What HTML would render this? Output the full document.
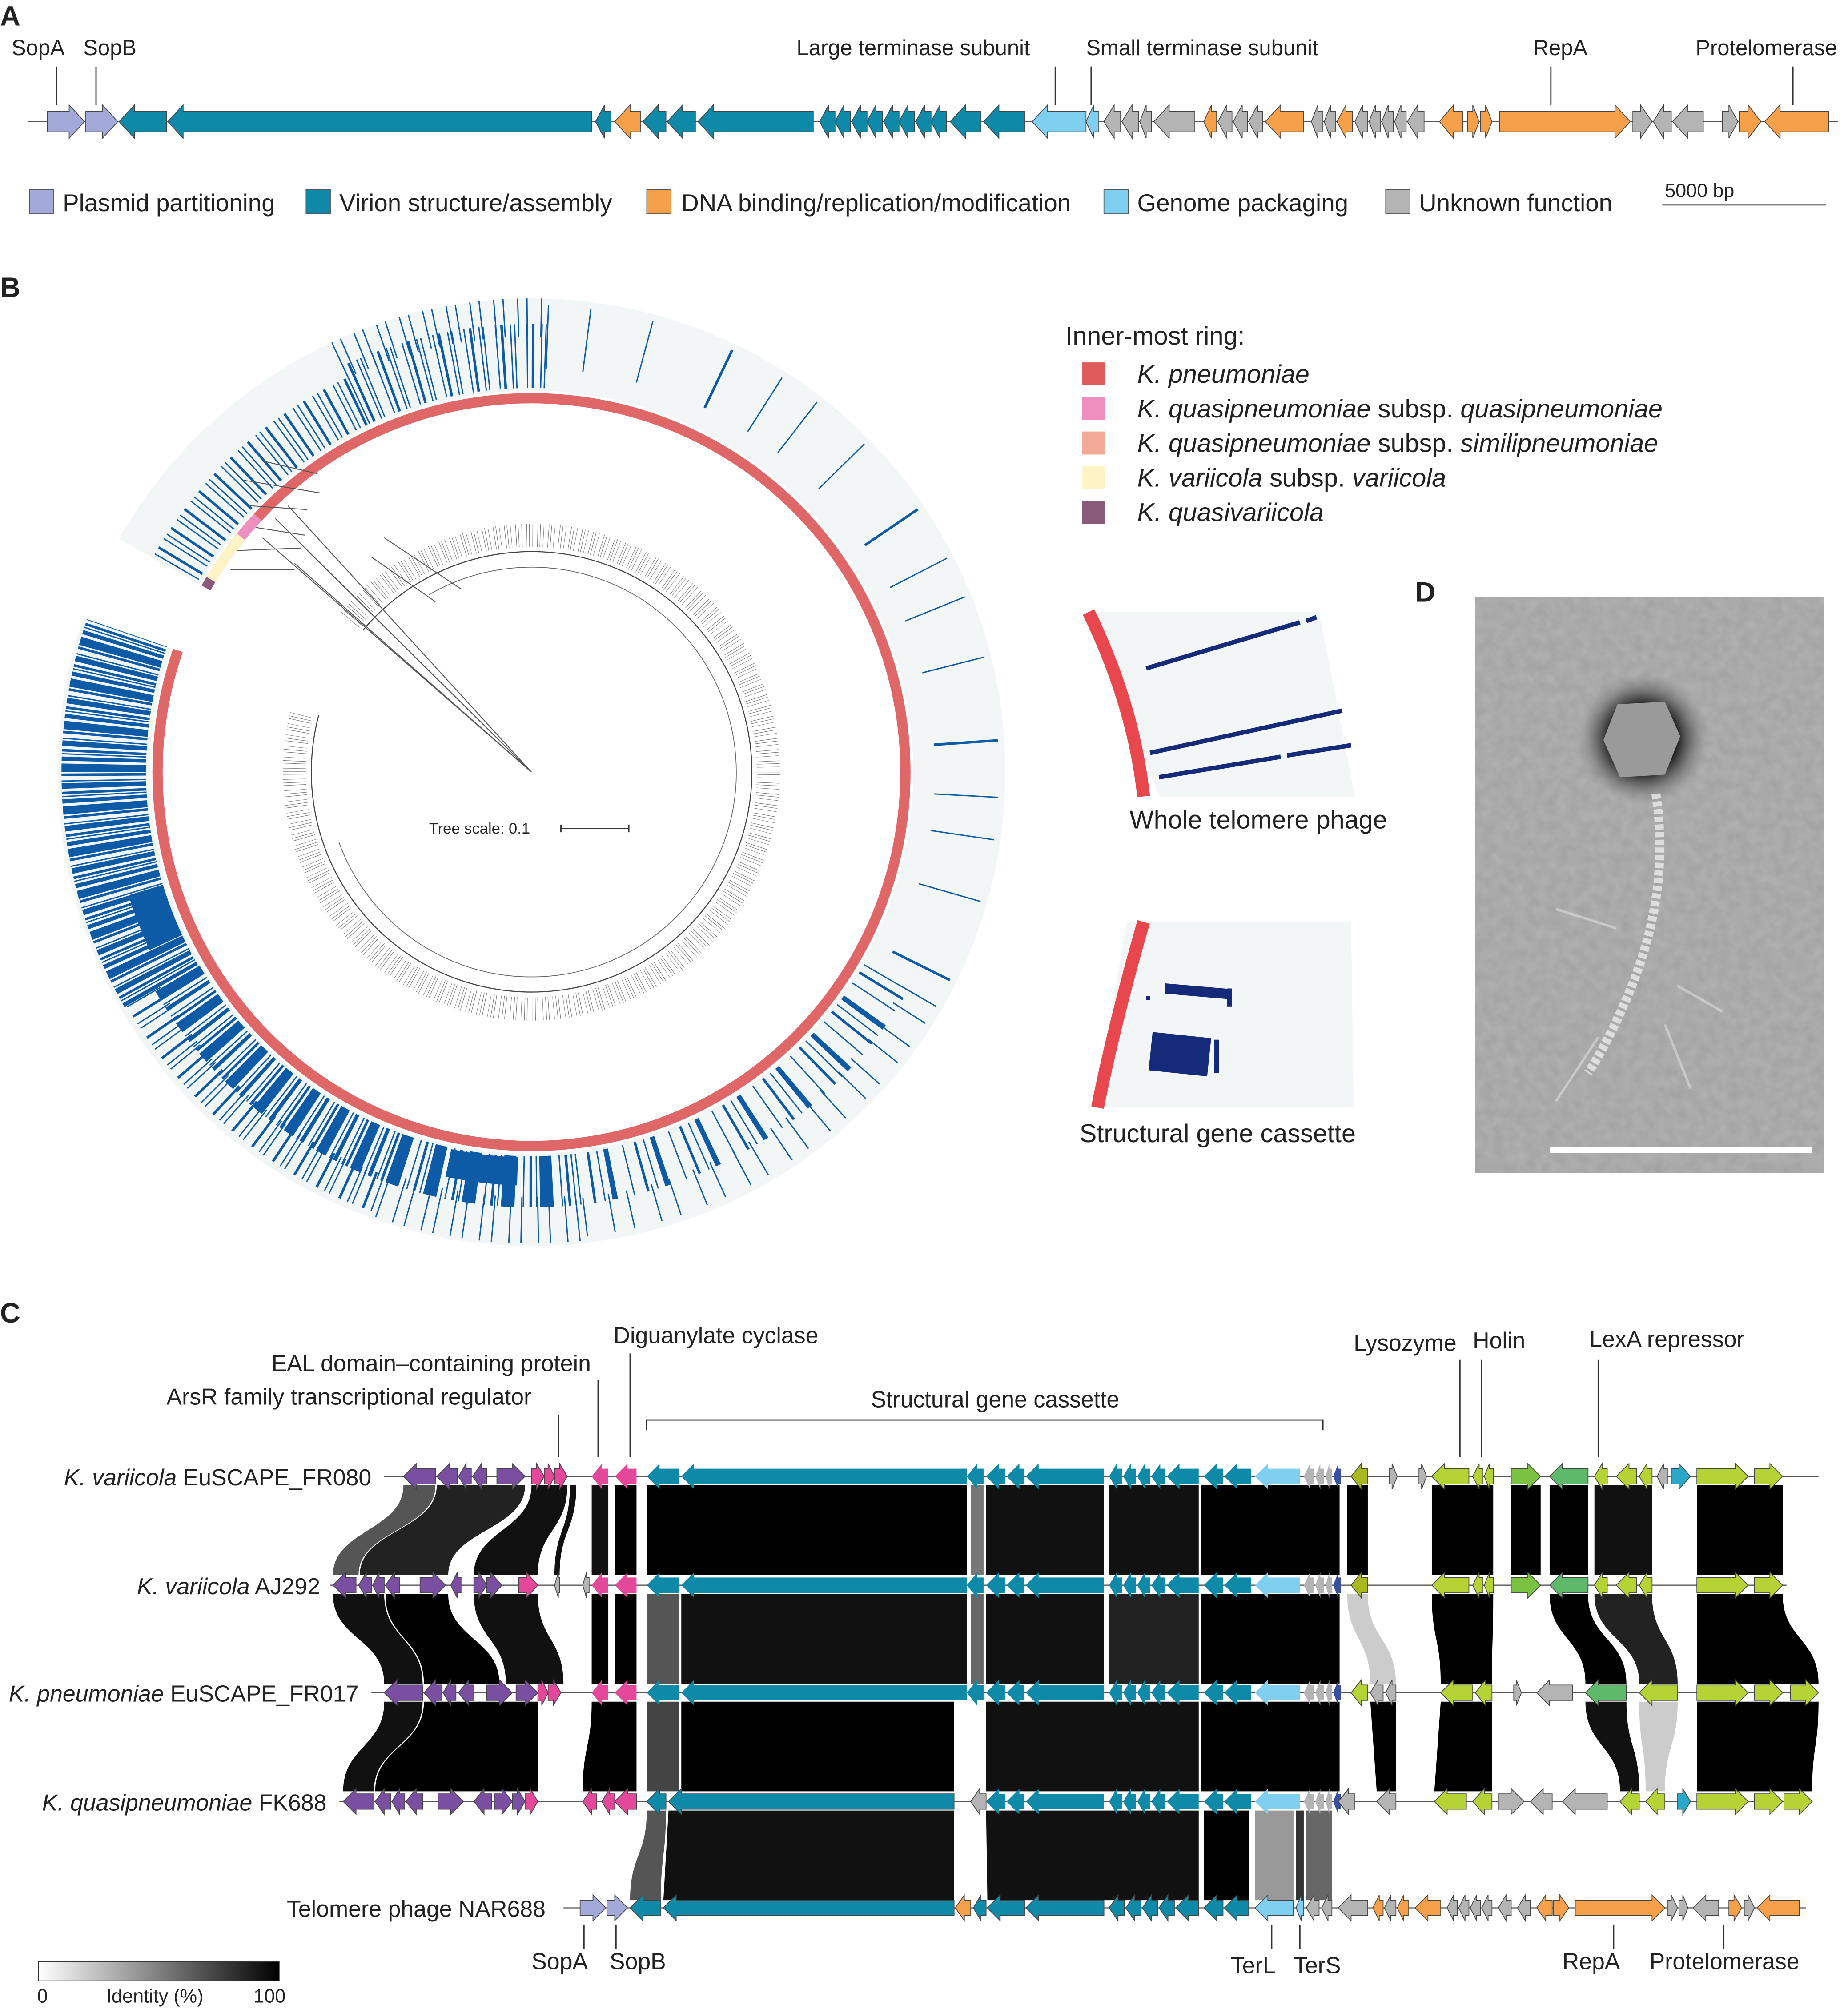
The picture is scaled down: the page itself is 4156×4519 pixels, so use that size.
<!DOCTYPE html>
<html><head><meta charset="utf-8"><style>
html,body{margin:0;padding:0;background:#fff}
svg{display:block}
text{font-family:"Liberation Sans",sans-serif;fill:#222}
.gn path{stroke:#444;stroke-width:.6}
.t{fill:#0e8aa8}.o{fill:#f6a04a}.lv{fill:#a3a9d8}.lb{fill:#7fcff0}.gy{fill:#b4b4b4}.p{fill:#7a4ea0}.k{fill:#e4489b}.lm{fill:#b5d334}.gr{fill:#7cc242}.g2{fill:#5fb96a}.db{fill:#3a4fa0}.c{fill:#29a8c8}.y{fill:#a8b81e}
.bl{fill:none;stroke:#0d5aa6}
</style></head><body>
<svg xmlns="http://www.w3.org/2000/svg" width="4156" height="4519" viewBox="0 0 1443 1569" preserveAspectRatio="none">
<defs>
<filter id="noise" x="0" y="0" width="100%" height="100%">
<feTurbulence type="fractalNoise" baseFrequency="0.12" numOctaves="3" seed="3"/>
<feColorMatrix type="matrix" values="0 0 0 0 0.5  0 0 0 0 0.5  0 0 0 0 0.5  0 0 0 0.7 0"/>
</filter>
<radialGradient id="halo"><stop offset="0.5" stop-color="#1a1a1a"/><stop offset="1" stop-color="#888" stop-opacity="0"/></radialGradient>
<linearGradient id="idg"><stop offset="0" stop-color="#fff"/><stop offset="1" stop-color="#000"/></linearGradient>
</defs>
<rect width="1443" height="1569" fill="#fff"/>

<!-- ===== Panel A genes ===== -->
<line x1="22" y1="95" x2="1435" y2="95" stroke="#555" stroke-width="1"/>
<g class="gn" transform="translate(0,95)">
<path class="lv" d="M37,-8H54V-13L66,0L54,13V8H37Z"/>
<path class="lv" d="M67,-8H80V-13L92,0L80,13V8H67Z"/>
<path class="t" d="M130,-8H105V-13L93,0L105,13V8H130Z"/>
<path class="t" d="M462,-8H143V-13L131,0L143,13V8H462Z"/>
<path class="t" d="M477,-8H472V-13L465,0L472,13V8H477Z"/>
<path class="o" d="M500,-8H492V-13L480,0L492,13V8H500Z"/>
<path class="t" d="M520,-8H514V-13L502,0L514,13V8H520Z"/>
<path class="t" d="M543,-8H533V-13L521,0L533,13V8H543Z"/>
<path class="t" d="M635,-8H557V-13L545,0L557,13V8H635Z"/>
<path class="t" d="M652,-8H647V-13L640,0L647,13V8H652Z"/>
<path class="t" d="M664,-8H659V-13L652,0L659,13V8H664Z"/>
<path class="t" d="M677,-8H672V-13L665,0L672,13V8H677Z"/>
<path class="t" d="M689,-8H684V-13L677,0L684,13V8H689Z"/>
<path class="t" d="M702,-8H697V-13L690,0L697,13V8H702Z"/>
<path class="t" d="M714,-8H709V-13L702,0L709,13V8H714Z"/>
<path class="t" d="M727,-8H722V-13L715,0L722,13V8H727Z"/>
<path class="t" d="M739,-8H734V-13L727,0L734,13V8H739Z"/>
<path class="t" d="M766,-8H754V-13L742,0L754,13V8H766Z"/>
<path class="t" d="M800,-8H780V-13L768,0L780,13V8H800Z"/>
<path class="lb" d="M848,-8H818V-13L806,0L818,13V8H848Z"/>
<path class="lb" d="M858,-8H854V-13L848,0L854,13V8H858Z"/>
<path class="gy" d="M875,-8H870V-13L862,0L870,13V8H875Z"/>
<path class="gy" d="M889,-8H884V-13L876,0L884,13V8H889Z"/>
<path class="gy" d="M899,-8H895V-13L890,0L895,13V8H899Z"/>
<path class="gy" d="M933,-8H913V-13L901,0L913,13V8H933Z"/>
<path class="o" d="M950,-8H946V-13L940,0L946,13V8H950Z"/>
<path class="gy" d="M962,-8H958V-13L951,0L958,13V8H962Z"/>
<path class="gy" d="M974,-8H970V-13L963,0L970,13V8H974Z"/>
<path class="gy" d="M986,-8H982V-13L975,0L982,13V8H986Z"/>
<path class="o" d="M1018,-8H1000V-13L988,0L1000,13V8H1018Z"/>
<path class="gy" d="M1033,-8H1029V-13L1024,0L1029,13V8H1033Z"/>
<path class="gy" d="M1043,-8H1039V-13L1034,0L1039,13V8H1043Z"/>
<path class="o" d="M1056,-8H1051V-13L1044,0L1051,13V8H1056Z"/>
<path class="gy" d="M1068,-8H1064V-13L1058,0L1064,13V8H1068Z"/>
<path class="gy" d="M1078,-8H1074V-13L1069,0L1074,13V8H1078Z"/>
<path class="gy" d="M1088,-8H1084V-13L1079,0L1084,13V8H1088Z"/>
<path class="gy" d="M1098,-8H1094V-13L1089,0L1094,13V8H1098Z"/>
<path class="gy" d="M1112,-8H1107V-13L1099,0L1107,13V8H1112Z"/>
<path class="o" d="M1142,-8H1135V-13L1124,0L1135,13V8H1142Z"/>
<path class="o" d="M1146,-8H1150V-13L1155,0L1150,13V8H1146Z"/>
<path class="o" d="M1156,-8H1160V-13L1165,0L1160,13V8H1156Z"/>
<path class="o" d="M1171,-8H1261V-13L1273,0L1261,13V8H1171Z"/>
<path class="gy" d="M1275,-8H1281V-13L1290,0L1281,13V8H1275Z"/>
<path class="gy" d="M1305,-8H1299V-13L1291,0L1299,13V8H1305Z"/>
<path class="gy" d="M1330,-8H1318V-13L1306,0L1318,13V8H1330Z"/>
<path class="gy" d="M1345,-8H1350V-13L1357,0L1350,13V8H1345Z"/>
<path class="o" d="M1358,-8H1365V-13L1375,0L1365,13V8H1358Z"/>
<path class="o" d="M1428,-8H1390V-13L1378,0L1390,13V8H1428Z"/>
</g>

<!-- Panel labels -->
<text x="0" y="20" font-size="22" font-weight="bold">A</text>
<text x="0" y="232" font-size="22" font-weight="bold">B</text>
<text x="0" y="1033" font-size="22" font-weight="bold">C</text>
<text x="1105" y="470" font-size="22" font-weight="bold">D</text>
<g font-size="17">
<text x="9" y="43">SopA</text><text x="65" y="43">SopB</text>
<text x="622" y="43">Large terminase subunit</text>
<text x="848" y="43">Small terminase subunit</text>
<text x="1197" y="43">RepA</text>
<text x="1324" y="43">Protelomerase</text>
</g>
<g stroke="#333" stroke-width="1">
<line x1="44" y1="52" x2="44" y2="82"/><line x1="75" y1="52" x2="75" y2="82"/>
<line x1="824" y1="52" x2="824" y2="82"/><line x1="852" y1="52" x2="852" y2="82"/>
<line x1="1211" y1="52" x2="1211" y2="82"/><line x1="1400" y1="52" x2="1400" y2="82"/>
<line x1="1298" y1="160" x2="1426" y2="160"/>
</g>
<text x="1300" y="154" font-size="15">5000 bp</text>
<g font-size="19">
<rect x="23" y="148" width="19" height="19" fill="#a3a9d8" stroke="#555" stroke-width=".6"/><text x="49" y="165">Plasmid partitioning</text>
<rect x="239" y="148" width="19" height="19" fill="#0e8aa8" stroke="#555" stroke-width=".6"/><text x="265" y="165">Virion structure/assembly</text>
<rect x="505" y="148" width="19" height="19" fill="#f6a04a" stroke="#555" stroke-width=".6"/><text x="532" y="165">DNA binding/replication/modification</text>
<rect x="862" y="148" width="19" height="19" fill="#7fcff0" stroke="#555" stroke-width=".6"/><text x="888" y="165">Genome packaging</text>
<rect x="1082" y="148" width="19" height="19" fill="#b4b4b4" stroke="#555" stroke-width=".6"/><text x="1108" y="165">Unknown function</text>
</g>

<!-- ===== Panel B circle ===== -->
<circle cx="415" cy="603" r="334" fill="none" stroke="#f3f6f6" stroke-width="72"/>
<circle cx="415" cy="603" r="292" fill="none" stroke="#e06767" stroke-width="8"/>
<path class="bl" d="M125.8,770 A334,334 0 0 1 99.2,494.2" stroke-width="66" stroke-dasharray="3 1.5 1 1 2 2 4 1 1 3 2 1 6 2"/>
<path class="bl" d="M129.5,736.1 A315,315 0 0 1 113.8,695.1" stroke-width="28"/>
<path class="bl" d="M305.6,903.7 A320,320 0 0 1 137.9,763" stroke-width="40" stroke-dasharray="2 2 1 4 3 2 1 3 8 2"/>
<path class="bl" d="M295.3,931.9 A350,350 0 0 1 111.9,778" stroke-width="30" stroke-dasharray="1 5 2 7 1 3"/>
<path class="bl" d="M448.4,921.2 A320,320 0 0 1 305.6,903.7" stroke-width="40" stroke-dasharray="1 3 2 4 1 6 10 2"/>
<path class="bl" d="M451.6,951.1 A350,350 0 0 1 295.3,931.9" stroke-width="36" stroke-dasharray="1 8 1 12"/>
<path class="bl" d="M404.1,914.8 A312,312 0 0 1 350.1,908.2" stroke-width="22"/>
<path class="bl" d="M692.1,763 A320,320 0 0 1 448.4,921.2" stroke-width="40" stroke-dasharray="1 6 2 9 1 12 4 5"/>
<path class="bl" d="M718.1,778 A350,350 0 0 1 451.6,951.1" stroke-width="30" stroke-dasharray="1 14 1 20"/>
<path class="bl" d="M137.9,443 A320,320 0 0 1 279.8,313" stroke-width="40" stroke-dasharray="1 4 2 6 1 3"/>
<path class="bl" d="M277.7,308.5 A325,325 0 0 1 426.3,278.2" stroke-width="50" stroke-dasharray="1 3 2 5 1 2 1 8"/>
<path class="bl" d="M265,281.3 A355,355 0 0 1 427.4,248.2" stroke-width="30" stroke-dasharray="1 6 1 10"/>
<path class="bl" d="M426.9,263.2 A340,340 0 0 1 709.4,773" stroke-width="50" stroke-dasharray="1 30 1 45 1 60 2 40"/>
<polygon points="415,603 36.8,472.8 66.8,406" fill="#fff"/>
<path d="M160.8,459.2 A292,292 0 0 1 164.7,452.6" fill="none" stroke="#8a5a7a" stroke-width="8"/>
<path d="M164.7,452.6 A292,292 0 0 1 188.1,419.2" fill="none" stroke="#fdf3c4" stroke-width="8"/>
<path d="M188.1,419.2 A292,292 0 0 1 201.4,403.9" fill="none" stroke="#ef8fc0" stroke-width="8"/>
<!-- tree -->
<path d="M283.2,492.4 A172,172 0 1 1 248.9,558.5" fill="none" stroke="#444" stroke-width="0.8"/>
<path d="M273.3,484.1 A185,185 0 1 1 236.3,555.1" fill="none" stroke="#222" stroke-width="18" stroke-dasharray="0.4 2.2 0.3 3.5 0.4 1.6" opacity="0.6"/>
<path d="M335,464.4 A160,160 0 1 1 264.6,657.7" fill="none" stroke="#666" stroke-width="0.6"/>
<g stroke="#555" stroke-width="0.7">
<line x1="415" y1="603" x2="205" y2="420"/><line x1="415" y1="603" x2="215" y2="405"/>
<line x1="415" y1="603" x2="225" y2="395"/><line x1="415" y1="603" x2="240" y2="430"/>
<line x1="415" y1="603" x2="230" y2="440"/>
<line x1="190" y1="375" x2="250" y2="385"/><line x1="195" y1="395" x2="240" y2="398"/>
<line x1="200" y1="412" x2="238" y2="418"/><line x1="185" y1="430" x2="235" y2="428"/>
<line x1="180" y1="445" x2="230" y2="445"/><line x1="205" y1="360" x2="248" y2="370"/>
<line x1="300" y1="420" x2="360" y2="460"/><line x1="290" y1="435" x2="340" y2="470"/>
</g>
<text x="335" y="651" font-size="12">Tree scale: 0.1</text>
<path d="M438,644 L438,650 M438,647 L491,647 M491,644 L491,650" stroke="#333" stroke-width="1"/>

<!-- B legend -->
<text x="832" y="269" font-size="20">Inner-most ring:</text>
<g font-size="20" font-style="italic">
<rect x="845" y="283" width="18" height="18" fill="#e05b5b"/><text x="888" y="299">K. pneumoniae</text>
<rect x="845" y="310" width="18" height="18" fill="#ef8fc0"/><text x="888" y="326">K. quasipneumoniae<tspan font-style="normal"> subsp. </tspan>quasipneumoniae</text>
<rect x="845" y="337" width="18" height="18" fill="#f2aa98"/><text x="888" y="353">K. quasipneumoniae<tspan font-style="normal"> subsp. </tspan>similipneumoniae</text>
<rect x="845" y="364" width="18" height="18" fill="#fdf3c4"/><text x="888" y="380">K. variicola<tspan font-style="normal"> subsp. </tspan>variicola</text>
<rect x="845" y="391" width="18" height="18" fill="#8a5a7a"/><text x="888" y="407">K. quasivariicola</text>
</g>
<path d="M850,478 L1030,478 L1058,622 L905,622 Z" fill="#f3f6f6"/>
<path d="M850,478 Q885,550 893,622" fill="none" stroke="#e8474e" stroke-width="10"/>
<g stroke="#162a7a" stroke-width="3.5">
<line x1="895" y1="522" x2="1015" y2="486"/><line x1="1020" y1="485" x2="1028" y2="482"/>
<line x1="898" y1="588" x2="1048" y2="555"/>
<line x1="905" y1="607" x2="1000" y2="591"/><line x1="1005" y1="590" x2="1055" y2="582"/>
</g>
<text x="882" y="647" font-size="20">Whole telomere phage</text>
<path d="M880,720 L1055,720 L1057,865 L855,865 Z" fill="#f3f6f6"/>
<path d="M893,720 Q870,800 857,865" fill="none" stroke="#e8474e" stroke-width="10"/>
<g fill="#162a7a">
<rect x="910" y="768" width="50" height="8" transform="rotate(5 910 768)"/>
<rect x="900" y="806" width="46" height="30" transform="rotate(6 900 806)"/>
<rect x="948" y="812" width="4" height="26"/><rect x="958" y="772" width="4" height="14"/>
<rect x="895" y="778" width="3" height="3"/>
</g>
<text x="843" y="892" font-size="20">Structural gene cassette</text>
<!-- D -->
<rect x="1152" y="466" width="272" height="450" fill="#a0a0a0"/>
<rect x="1152" y="466" width="272" height="450" filter="url(#noise)"/>
<circle cx="1283" cy="577" r="52" fill="url(#halo)"/>
<polygon points="1263,550 1300,548 1312,575 1300,605 1265,607 1252,578" fill="#9a9a9a"/>
<path d="M1293,620 Q1305,700 1270,780 Q1255,815 1240,838" fill="none" stroke="#e6e6e6" stroke-width="7" stroke-dasharray="4 2" opacity=".85"/>
<g stroke="#ddd" stroke-width="2" opacity=".6"><line x1="1215" y1="710" x2="1262" y2="725"/><line x1="1248" y1="810" x2="1215" y2="860"/><line x1="1300" y1="800" x2="1320" y2="850"/><line x1="1310" y1="770" x2="1345" y2="790"/></g>
<line x1="1210" y1="898" x2="1415" y2="898" stroke="#fff" stroke-width="5"/>

<!-- ===== Panel C ===== -->
<g transform="translate(0,1160)">
<path fill="#555" d="M315,0H340C340,35 280,35 280,70H260C260,35 315,35 315,0Z"/>
<path fill="#222" d="M341,0H410C410,35 350,35 350,70H281C281,35 341,35 341,0Z"/>
<path fill="#111" d="M415,0H443C443,35 420,35 420,70H370C370,35 415,35 415,0Z"/>
<path fill="#111" d="M445,0H450C450,35 437,35 437,70H433C433,35 445,35 445,0Z"/>
<path fill="#111" d="M462,0H475V70H462Z"/><path fill="#000" d="M480,0H497V70H480Z"/>
<path fill="#000" d="M505,0H755V70H505Z"/><path fill="#777" d="M758,0H768V70H758Z"/>
<path fill="#111" d="M770,0H862V70H770Z"/><path fill="#111" d="M866,0H936V70H866Z"/>
<path fill="#000" d="M938,0H1046V70H938Z"/><path fill="#000" d="M1052,0H1068V70H1052Z"/>
<path fill="#000" d="M1118,0H1166V70H1118Z"/><path fill="#000" d="M1180,0H1203V70H1180Z"/>
<path fill="#000" d="M1210,0H1240V70H1210Z"/><path fill="#111" d="M1245,0H1290V70H1245Z"/>
<path fill="#000" d="M1325,0H1392V70H1325Z"/>
</g>
<g transform="translate(0,1245)">
<path fill="#111" d="M260,0H300C300,35 330,35 330,70H300C300,35 260,35 260,0Z"/>
<path fill="#000" d="M301,0H350C350,35 390,35 390,70H331C331,35 301,35 301,0Z"/>
<path fill="#111" d="M370,0H420C420,35 440,35 440,70H395C395,35 370,35 370,0Z"/>
<path fill="#000" d="M462,0H475V70H462Z"/><path fill="#000" d="M480,0H497V70H480Z"/>
<path fill="#555" d="M505,0H530V70H505Z"/><path fill="#111" d="M532,0H755V70H532Z"/>
<path fill="#666" d="M758,0H768V70H758Z"/><path fill="#111" d="M770,0H862V70H770Z"/>
<path fill="#222" d="M866,0H936V70H866Z"/><path fill="#000" d="M938,0H1046V70H938Z"/>
<path fill="#ccc" d="M1052,0H1068C1068,35 1090,35 1090,70H1070C1070,35 1052,35 1052,0Z"/>
<path fill="#000" d="M1118,0H1166C1166,35 1165,35 1165,70H1125C1125,35 1118,35 1118,0Z"/>
<path fill="#000" d="M1210,0H1240C1240,35 1270,35 1270,70H1238C1238,35 1210,35 1210,0Z"/>
<path fill="#222" d="M1245,0H1290C1290,35 1310,35 1310,70H1280C1280,35 1245,35 1245,0Z"/>
<path fill="#000" d="M1325,0H1392C1392,35 1420,35 1420,70H1325Z"/>
</g>
<g transform="translate(0,1329)">
<path fill="#111" d="M300,0H330C330,35 292,35 292,70H268C268,35 300,35 300,0Z"/>
<path fill="#000" d="M331,0H420V70H293C293,35 331,35 331,0Z"/>
<path fill="#000" d="M462,0H497V70H455C455,35 462,35 462,0Z"/>
<path fill="#444" d="M505,0H530V70H505Z"/><path fill="#000" d="M532,0H745V70H532Z"/>
<path fill="#111" d="M770,0H936V70H770Z"/><path fill="#000" d="M938,0H1046V70H938Z"/>
<path fill="#000" d="M1070,0H1090V70H1075Z"/>
<path fill="#000" d="M1125,0H1165V70H1120Z"/>
<path fill="#111" d="M1238,0H1270C1270,35 1280,35 1280,70H1265C1265,35 1238,35 1238,0Z"/>
<path fill="#ccc" d="M1280,0H1310C1310,35 1300,35 1300,70H1285C1285,35 1280,35 1280,0Z"/>
<path fill="#000" d="M1325,0H1420C1420,35 1415,35 1415,70H1325Z"/>
</g>
<g transform="translate(0,1414)">
<path fill="#555" d="M505,0H520C520,35 516,35 516,70H492C492,35 505,35 505,0Z"/>
<path fill="#111" d="M522,0H745V70H518Z"/>
<path fill="#111" d="M770,0H936V70H771Z"/><path fill="#000" d="M940,0H975V70H940Z"/>
<path fill="#999" d="M980,0H1010V70H980Z"/><path fill="#333" d="M1012,0H1018V70H1012Z"/>
<path fill="#666" d="M1020,0H1040V70H1020Z"/>
</g>
<g stroke="#555" stroke-width="0.8">
<line x1="300" y1="1153" x2="1420" y2="1153"/><line x1="258" y1="1238" x2="1395" y2="1238"/>
<line x1="290" y1="1322" x2="1420" y2="1322"/><line x1="265" y1="1407" x2="1415" y2="1407"/>
<line x1="440" y1="1490" x2="1410" y2="1490"/>
</g>
<defs>
<g id="mid">
<path class="t" d="M785,-6H780V-10L770,0L780,10V6H785Z"/>
<path class="t" d="M800,-6H796V-10L786,0L796,10V6H800Z"/>
<path class="t" d="M862,-6H811V-10L801,0L811,10V6H862Z"/>
<path class="t" d="M876,-6H872V-10L866,0L872,10V6H876Z"/>
<path class="t" d="M887,-6H883V-10L877,0L883,10V6H887Z"/>
<path class="t" d="M898,-6H894V-10L888,0L894,10V6H898Z"/>
<path class="t" d="M910,-6H906V-10L899,0L906,10V6H910Z"/>
<path class="t" d="M936,-6H921V-10L911,0L921,10V6H936Z"/>
<path class="t" d="M955,-6H950V-10L940,0L950,10V6H955Z"/>
<path class="t" d="M977,-6H966V-10L956,0L966,10V6H977Z"/>
<path class="lb" d="M1015,-6H990V-10L980,0L990,10V6H1015Z"/>
<path class="gy" d="M1026,-6H1023V-10L1018,0L1023,10V6H1026Z"/>
<path class="gy" d="M1034,-6H1031V-10L1027,0L1031,10V6H1034Z"/>
<path class="gy" d="M1040,-6H1038V-10L1035,0L1038,10V6H1040Z"/>
<path class="db" d="M1047,-6H1045V-10L1041,0L1045,10V6H1047Z"/>
</g>
<g id="head3">
<path class="t" d="M530,-6H515V-10L505,0L515,10V6H530Z"/>
<path class="t" d="M755,-6H542V-10L532,0L542,10V6H755Z"/>
<path class="t" d="M768,-6H763V-10L755,0L763,10V6H768Z"/>
<path class="k" d="M475,-6H470V-10L462,0L470,10V6H475Z"/>
<path class="k" d="M497,-6H490V-10L480,0L490,10V6H497Z"/>
</g>
</defs>
<g class="gn" transform="translate(0,1153)">
<use href="#mid"/><use href="#head3"/>
<path class="p" d="M340,-6H325V-10L315,0L325,10V6H340Z"/>
<path class="p" d="M357,-6H351V-10L341,0L351,10V6H357Z"/>
<path class="p" d="M368,-6H364V-10L358,0L364,10V6H368Z"/>
<path class="p" d="M380,-6H376V-10L369,0L376,10V6H380Z"/>
<path class="p" d="M388,-6H400V-10L410,0L400,10V6H388Z"/>
<path class="k" d="M415,-6H419V-10L425,0L419,10V6H415Z"/>
<path class="k" d="M425,-6H428V-10L433,0L428,10V6H425Z"/>
<path class="k" d="M433,-6H437V-10L443,0L437,10V6H433Z"/>
<path class="y" d="M1068,-6H1063V-10L1055,0L1063,10V6H1068Z"/>
<path class="gy" d="M1085,-6H1087V-10L1091,0L1087,10V6H1085Z"/>
<path class="gy" d="M1108,-6H1110V-10L1114,0L1110,10V6H1108Z"/>
<path class="lm" d="M1147,-6H1128V-10L1118,0L1128,10V6H1147Z"/>
<path class="lm" d="M1158,-6H1155V-10L1150,0L1155,10V6H1158Z"/>
<path class="lm" d="M1166,-6H1163V-10L1159,0L1163,10V6H1166Z"/>
<path class="gr" d="M1180,-6H1193V-10L1203,0L1193,10V6H1180Z"/>
<path class="g2" d="M1240,-6H1220V-10L1210,0L1220,10V6H1240Z"/>
<path class="lm" d="M1255,-6H1251V-10L1245,0L1251,10V6H1255Z"/>
<path class="lm" d="M1278,-6H1272V-10L1262,0L1272,10V6H1278Z"/>
<path class="lm" d="M1290,-6H1286V-10L1280,0L1286,10V6H1290Z"/>
<path class="gy" d="M1302,-6H1299V-10L1294,0L1299,10V6H1302Z"/>
<path class="c" d="M1305,-6H1311V-10L1320,0L1311,10V6H1305Z"/>
<path class="lm" d="M1325,-6H1355V-10L1365,0L1355,10V6H1325Z"/>
<path class="lm" d="M1370,-6H1382V-10L1392,0L1382,10V6H1370Z"/>
</g>
<g class="gn" transform="translate(0,1238)">
<use href="#mid"/><use href="#head3"/>
<path class="p" d="M278,-6H270V-10L260,0L270,10V6H278Z"/>
<path class="p" d="M290,-6H286V-10L280,0L286,10V6H290Z"/>
<path class="p" d="M300,-6H296V-10L291,0L296,10V6H300Z"/>
<path class="p" d="M312,-6H308V-10L301,0L308,10V6H312Z"/>
<path class="p" d="M328,-6H338V-10L348,0L338,10V6H328Z"/>
<path class="p" d="M360,-6H357V-10L352,0L357,10V6H360Z"/>
<path class="p" d="M370,-6H374V-10L380,0L374,10V6H370Z"/>
<path class="p" d="M380,-6H383V-10L392,0L383,10V6H380Z"/>
<path class="k" d="M405,-6H411V-10L420,0L411,10V6H405Z"/>
<path class="gy" d="M437,-6H436V-10L433,0L436,10V6H437Z"/>
<path class="gy" d="M460,-6H458V-10L455,0L458,10V6H460Z"/>
<path class="y" d="M1068,-6H1063V-10L1055,0L1063,10V6H1068Z"/>
<path class="lm" d="M1147,-6H1128V-10L1118,0L1128,10V6H1147Z"/>
<path class="lm" d="M1158,-6H1155V-10L1150,0L1155,10V6H1158Z"/>
<path class="lm" d="M1166,-6H1163V-10L1159,0L1163,10V6H1166Z"/>
<path class="gr" d="M1180,-6H1193V-10L1203,0L1193,10V6H1180Z"/>
<path class="g2" d="M1240,-6H1220V-10L1210,0L1220,10V6H1240Z"/>
<path class="lm" d="M1255,-6H1251V-10L1245,0L1251,10V6H1255Z"/>
<path class="lm" d="M1278,-6H1272V-10L1262,0L1272,10V6H1278Z"/>
<path class="lm" d="M1290,-6H1286V-10L1280,0L1286,10V6H1290Z"/>
<path class="lm" d="M1325,-6H1355V-10L1365,0L1355,10V6H1325Z"/>
<path class="lm" d="M1370,-6H1382V-10L1392,0L1382,10V6H1370Z"/>
</g>
<g class="gn" transform="translate(0,1322)">
<use href="#mid"/><use href="#head3"/>
<path class="p" d="M330,-6H310V-10L300,0L310,10V6H330Z"/>
<path class="p" d="M345,-6H340V-10L331,0L340,10V6H345Z"/>
<path class="p" d="M356,-6H352V-10L346,0L352,10V6H356Z"/>
<path class="p" d="M370,-6H366V-10L358,0L366,10V6H370Z"/>
<path class="p" d="M380,-6H390V-10L400,0L390,10V6H380Z"/>
<path class="p" d="M403,-6H410V-10L420,0L410,10V6H403Z"/>
<path class="k" d="M420,-6H423V-10L428,0L423,10V6H420Z"/>
<path class="k" d="M428,-6H432V-10L438,0L432,10V6H428Z"/>
<path class="lm" d="M1068,-6H1063V-10L1055,0L1063,10V6H1068Z"/>
<path class="gy" d="M1080,-6H1076V-10L1070,0L1076,10V6H1080Z"/>
<path class="gy" d="M1090,-6H1087V-10L1082,0L1087,10V6H1090Z"/>
<path class="lm" d="M1150,-6H1135V-10L1125,0L1135,10V6H1150Z"/>
<path class="lm" d="M1165,-6H1160V-10L1152,0L1160,10V6H1165Z"/>
<path class="gy" d="M1182,-6H1184V-10L1188,0L1184,10V6H1182Z"/>
<path class="gy" d="M1228,-6H1210V-10L1200,0L1210,10V6H1228Z"/>
<path class="g2" d="M1270,-6H1248V-10L1238,0L1248,10V6H1270Z"/>
<path class="lm" d="M1310,-6H1290V-10L1280,0L1290,10V6H1310Z"/>
<path class="lm" d="M1325,-6H1355V-10L1365,0L1355,10V6H1325Z"/>
<path class="lm" d="M1370,-6H1382V-10L1392,0L1382,10V6H1370Z"/>
<path class="lm" d="M1398,-6H1410V-10L1420,0L1410,10V6H1398Z"/>
</g>
<g class="gn" transform="translate(0,1407)">
<use href="#mid"/>
<path class="t" d="M520,-6H515V-10L505,0L515,10V6H520Z"/>
<path class="t" d="M745,-6H532V-10L522,0L532,10V6H745Z"/>
<path class="gy" d="M770,-6H765V-10L758,0L765,10V6H770Z"/>
<path class="p" d="M292,-6H278V-10L268,0L278,10V6H292Z"/>
<path class="p" d="M305,-6H300V-10L293,0L300,10V6H305Z"/>
<path class="p" d="M316,-6H312V-10L306,0L312,10V6H316Z"/>
<path class="p" d="M330,-6H325V-10L317,0L325,10V6H330Z"/>
<path class="p" d="M342,-6H352V-10L362,0L352,10V6H342Z"/>
<path class="p" d="M384,-6H378V-10L370,0L378,10V6H384Z"/>
<path class="p" d="M386,-6H392V-10L400,0L392,10V6H386Z"/>
<path class="p" d="M400,-6H404V-10L410,0L404,10V6H400Z"/>
<path class="k" d="M410,-6H414V-10L420,0L414,10V6H410Z"/>
<path class="k" d="M466,-6H462V-10L455,0L462,10V6H466Z"/>
<path class="k" d="M480,-6H476V-10L470,0L476,10V6H480Z"/>
<path class="k" d="M497,-6H490V-10L480,0L490,10V6H497Z"/>
<path class="gy" d="M1058,-6H1053V-10L1045,0L1053,10V6H1058Z"/>
<path class="gy" d="M1090,-6H1085V-10L1075,0L1085,10V6H1090Z"/>
<path class="lm" d="M1145,-6H1130V-10L1120,0L1130,10V6H1145Z"/>
<path class="lm" d="M1165,-6H1159V-10L1150,0L1159,10V6H1165Z"/>
<path class="gy" d="M1170,-6H1180V-10L1190,0L1180,10V6H1170Z"/>
<path class="gy" d="M1212,-6H1205V-10L1195,0L1205,10V6H1212Z"/>
<path class="gy" d="M1255,-6H1230V-10L1220,0L1230,10V6H1255Z"/>
<path class="lm" d="M1280,-6H1274V-10L1265,0L1274,10V6H1280Z"/>
<path class="lm" d="M1300,-6H1294V-10L1285,0L1294,10V6H1300Z"/>
<path class="c" d="M1310,-6H1314V-10L1320,0L1314,10V6H1310Z"/>
<path class="lm" d="M1325,-6H1355V-10L1365,0L1355,10V6H1325Z"/>
<path class="lm" d="M1370,-6H1382V-10L1392,0L1382,10V6H1370Z"/>
<path class="lm" d="M1393,-6H1405V-10L1415,0L1405,10V6H1393Z"/>
</g>
<g class="gn" transform="translate(0,1490)">
<path class="lv" d="M453,-6H463V-10L473,0L463,10V6H453Z"/>
<path class="lv" d="M474,-6H480V-10L490,0L480,10V6H474Z"/>
<path class="t" d="M516,-6H502V-10L492,0L502,10V6H516Z"/>
<path class="t" d="M745,-6H528V-10L518,0L528,10V6H745Z"/>
<path class="o" d="M758,-6H753V-10L746,0L753,10V6H758Z"/>
<path class="t" d="M770,-6H766V-10L760,0L766,10V6H770Z"/>
<path class="t" d="M800,-6H781V-10L771,0L781,10V6H800Z"/>
<path class="t" d="M862,-6H811V-10L801,0L811,10V6H862Z"/>
<path class="t" d="M878,-6H873V-10L866,0L873,10V6H878Z"/>
<path class="t" d="M891,-6H886V-10L879,0L886,10V6H891Z"/>
<path class="t" d="M904,-6H899V-10L892,0L899,10V6H904Z"/>
<path class="t" d="M917,-6H912V-10L905,0L912,10V6H917Z"/>
<path class="t" d="M936,-6H928V-10L918,0L928,10V6H936Z"/>
<path class="t" d="M955,-6H950V-10L940,0L950,10V6H955Z"/>
<path class="t" d="M975,-6H966V-10L956,0L966,10V6H975Z"/>
<path class="lb" d="M1010,-6H990V-10L980,0L990,10V6H1010Z"/>
<path class="lb" d="M1018,-6H1016V-10L1012,0L1016,10V6H1018Z"/>
<path class="gy" d="M1030,-6H1026V-10L1020,0L1026,10V6H1030Z"/>
<path class="gy" d="M1040,-6H1037V-10L1032,0L1037,10V6H1040Z"/>
<path class="gy" d="M1068,-6H1055V-10L1045,0L1055,10V6H1068Z"/>
<path class="o" d="M1080,-6H1077V-10L1072,0L1077,10V6H1080Z"/>
<path class="gy" d="M1090,-6H1086V-10L1081,0L1086,10V6H1090Z"/>
<path class="o" d="M1100,-6H1096V-10L1091,0L1096,10V6H1100Z"/>
<path class="o" d="M1125,-6H1115V-10L1105,0L1115,10V6H1125Z"/>
<path class="gy" d="M1138,-6H1135V-10L1130,0L1135,10V6H1138Z"/>
<path class="gy" d="M1147,-6H1144V-10L1139,0L1144,10V6H1147Z"/>
<path class="gy" d="M1156,-6H1153V-10L1148,0L1153,10V6H1156Z"/>
<path class="gy" d="M1165,-6H1162V-10L1157,0L1162,10V6H1165Z"/>
<path class="gy" d="M1180,-6H1176V-10L1170,0L1176,10V6H1180Z"/>
<path class="gy" d="M1195,-6H1191V-10L1185,0L1191,10V6H1195Z"/>
<path class="o" d="M1212,-6H1207V-10L1200,0L1207,10V6H1212Z"/>
<path class="o" d="M1213,-6H1218V-10L1225,0L1218,10V6H1213Z"/>
<path class="o" d="M1230,-6H1290V-10L1300,0L1290,10V6H1230Z"/>
<path class="gy" d="M1302,-6H1305V-10L1310,0L1305,10V6H1302Z"/>
<path class="gy" d="M1311,-6H1314V-10L1318,0L1314,10V6H1311Z"/>
<path class="gy" d="M1342,-6H1332V-10L1322,0L1332,10V6H1342Z"/>
<path class="o" d="M1350,-6H1354V-10L1360,0L1354,10V6H1350Z"/>
<path class="gy" d="M1362,-6H1365V-10L1370,0L1365,10V6H1362Z"/>
<path class="o" d="M1405,-6H1382V-10L1372,0L1382,10V6H1405Z"/>
</g>
<g font-size="18">
<text x="290" y="1160" text-anchor="end"><tspan font-style="italic">K. variicola</tspan> EuSCAPE_FR080</text>
<text x="250" y="1245" text-anchor="end"><tspan font-style="italic">K. variicola</tspan> AJ292</text>
<text x="280" y="1329" text-anchor="end"><tspan font-style="italic">K. pneumoniae</tspan> EuSCAPE_FR017</text>
<text x="255" y="1414" text-anchor="end"><tspan font-style="italic">K. quasipneumoniae</tspan> FK688</text>
<text x="426" y="1497" text-anchor="end">Telomere phage NAR688</text>
<text x="212" y="1071">EAL domain–containing protein</text>
<text x="130" y="1097">ArsR family transcriptional regulator</text>
<text x="479" y="1049">Diguanylate cyclase</text>
<text x="680" y="1099">Structural gene cassette</text>
<text x="1057" y="1055">Lysozyme</text><text x="1150" y="1053">Holin</text><text x="1241" y="1052">LexA repressor</text>
<text x="415" y="1538">SopA</text><text x="476" y="1538">SopB</text>
<text x="961" y="1541">TerL</text><text x="1010" y="1541">TerS</text>
<text x="1220" y="1538">RepA</text><text x="1288" y="1538">Protelomerase</text>
</g>
<g stroke="#333" stroke-width="1" fill="none">
<path d="M436,1105 L436,1138"/><path d="M467,1078 L467,1138"/><path d="M492,1057 L492,1138"/>
<path d="M505,1117 L505,1109 L1033,1109 L1033,1117"/>
<path d="M1140,1062 L1140,1138"/><path d="M1157,1062 L1157,1138"/><path d="M1248,1062 L1248,1138"/>
<path d="M456,1503 L456,1522"/><path d="M481,1503 L481,1522"/><path d="M993,1503 L993,1522"/><path d="M1015,1503 L1015,1522"/><path d="M1260,1503 L1260,1522"/><path d="M1346,1503 L1346,1522"/>
</g>
<rect x="30" y="1532" width="188" height="15" fill="url(#idg)" stroke="#333" stroke-width=".6"/>
<g font-size="15"><text x="29" y="1564">0</text><text x="83" y="1564">Identity (%)</text><text x="198" y="1564">100</text></g>
</svg>
</body></html>
